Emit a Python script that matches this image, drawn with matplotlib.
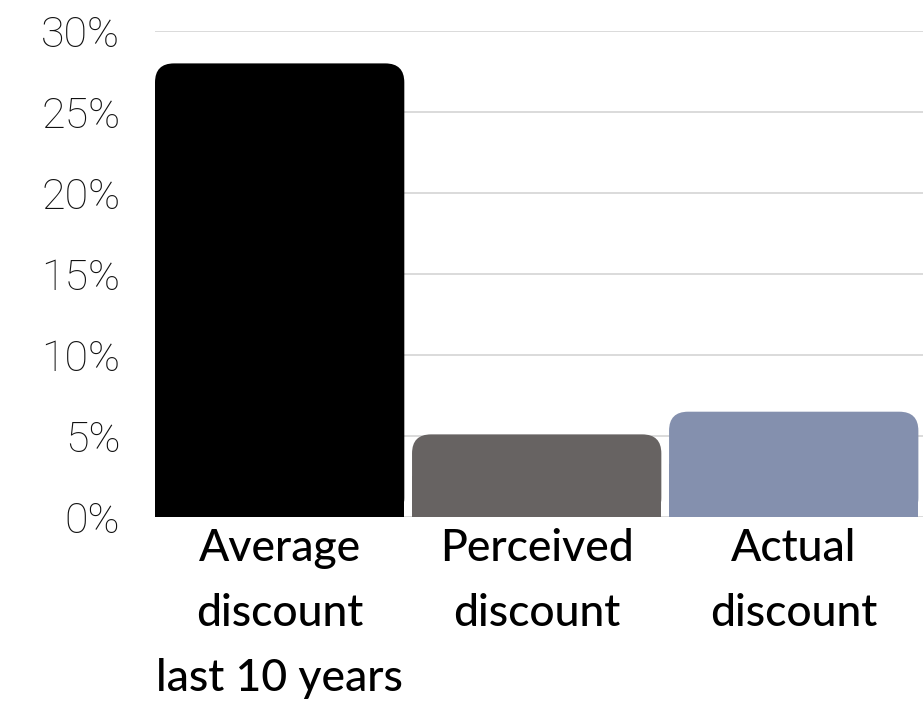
import matplotlib.pyplot as plt
from matplotlib.patches import FancyBboxPatch, Rectangle
from matplotlib.ticker import PercentFormatter

categories = ["Average\ndiscount\nlast 10 years", "Perceived\ndiscount", "Actual\ndiscount"]
values = [28.0, 5.1, 6.5]
colors = ["#000000", "#676362", "#8490ae"]
yticks = [0, 5, 10, 15, 20, 25, 30]

W, H = 923, 704
fig = plt.figure(figsize=(W / 100, H / 100), dpi=100)
ax = fig.add_axes([155 / W, (H - 517) / H, (W - 155) / W, (517 - 31) / H])

ax.set_xlim(-0.485, 2.503)
ax.set_ylim(0, 30)

bars = ax.bar(range(len(values)), values, width=0.97, color=colors)

# rounded tops: swap each bar for a rounded box plus a square bottom half
x_per_px = (2.503 + 0.485) / (W - 155)
y_per_px = 30 / (517 - 31)
r = 19 * x_per_px
for b in bars:
    b.set_visible(False)
    x, w, h, c = b.get_x(), b.get_width(), b.get_height(), b.get_facecolor()
    ax.add_patch(FancyBboxPatch((x, 0), w, h,
                                boxstyle=f"round,pad=0,rounding_size={r}",
                                mutation_aspect=y_per_px / x_per_px,
                                fc=c, ec="none", zorder=3))
    ax.add_patch(Rectangle((x, 0), w, h / 2, fc=c, ec="none", zorder=3))

ax.set_yticks(yticks)
ax.yaxis.set_major_formatter(PercentFormatter(decimals=0))
ax.grid(axis="y", color="#d4d4d4", linewidth=1.2, zorder=0)
ax.set_axisbelow(True)
for s in ax.spines.values():
    s.set_visible(False)

ax.tick_params(axis="y", length=0, pad=25, labelsize=31, labelcolor="#111111")
for t in ax.get_yticklabels():
    t.set_fontfamily(["Roboto", "DejaVu Sans"])
    t.set_fontweight("light")

ax.set_xticks(range(len(categories)))
ax.set_xticklabels(categories, fontsize=32, fontfamily=["Lato", "DejaVu Sans"],
                   fontweight="medium", linespacing=1.72, color="#000000")
ax.tick_params(axis="x", length=0, pad=8)

fig.savefig("out.png", dpi=100)
